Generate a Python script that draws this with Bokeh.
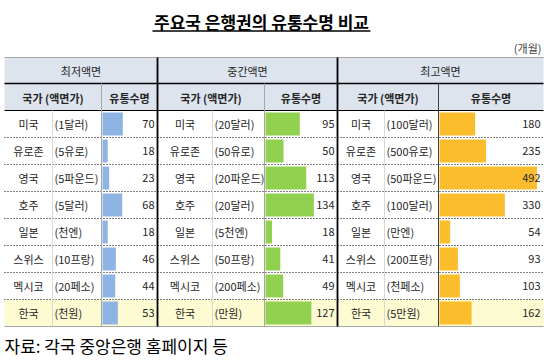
from bokeh.plotting import figure
from bokeh.models import Range1d, ColumnDataSource
from bokeh.core.properties import value
from bokeh.embed import file_html
from bokeh.resources import INLINE

# ---------------- data ----------------
title = "주요국 은행권의 유통수명 비교"
unit = "(개월)"
source_note = "자료: 각국 중앙은행 홈페이지 등"
groups = ["최저액면", "중간액면", "최고액면"]
head_country = "국가 (액면가)"
head_life = "유통수명"
countries = ["미국", "유로존", "영국", "호주", "일본", "스위스", "멕시코", "한국"]
low_denoms = ["(1달러)", "(5유로)", "(5파운드)", "(5달러)", "(천엔)", "(10프랑)", "(20페소)", "(천원)"]
low_life = [70, 18, 23, 68, 18, 46, 44, 53]
mid_denoms = ["(20달러)", "(50유로)", "(20파운드)", "(20달러)", "(5천엔)", "(50프랑)", "(200페소)", "(만원)"]
mid_life = [95, 50, 113, 134, 18, 41, 49, 127]
high_denoms = ["(100달러)", "(500유로)", "(50파운드)", "(100달러)", "(만엔)", "(200프랑)", "(천페소)", "(5만원)"]
high_life = [180, 235, 492, 330, 54, 93, 103, 162]

# ---------------- layout (reference pixel coordinates) ----------------
FONT = value("Noto Sans CJK KR")
W, H = 544, 362
XA, XB = 0, W
YT, YB = 0, H
TOP, H1, H2 = 57, 83, 110
ROW_H = 27
n = len(countries)
BOTTOM = H2 + ROW_H * n
TL, TR = 4, 543

tables = [
    dict(x0=TL, s1=52, s2=101, x1=157, scale=0.29, color="#8db4e2", denoms=low_denoms, life=low_life, name="low", sepcol="#a6a6a6"),
    dict(x0=157, s1=212, s2=264, x1=337, scale=0.361, color="#92d050", denoms=mid_denoms, life=mid_life, name="mid", sepcol="#a6a6a6"),
    dict(x0=337, s1=384, s2=438, x1=TR, scale=0.198, color="#fbbd2c", denoms=high_denoms, life=high_life, name="high", sepcol="#404040"),
]

p = figure(width=W, height=H, output_backend="svg", toolbar_location=None,
           x_range=Range1d(XA, XB), y_range=Range1d(YB, YT), min_border=0)
p.axis.visible = False
p.grid.visible = False
p.outline_line_color = None
p.background_fill_color = "white"
p.border_fill_color = "white"

row_centers = [H2 + ROW_H * i + ROW_H / 2 for i in range(n)]

# backgrounds
p.quad(left=[TL, TL], right=[TR, TR], top=[TOP, H1], bottom=[H1, H2],
       fill_color="#dde4ee", line_color=None)
p.quad(left=[TL], right=[TR], top=[row_centers[-1] - ROW_H / 2], bottom=[row_centers[-1] + ROW_H / 2],
       fill_color="#fdfbd2", line_color=None)

# bars via extra ranges (value axis per table)
for t in tables:
    L = t["s2"] + 1
    s = t["scale"]
    p.extra_x_ranges[t["name"]] = Range1d((XA - L) / s, (XB - L) / s)
    src = ColumnDataSource(dict(y=row_centers, v=t["life"]))
    p.hbar(y="y", left=0, right="v", height=23, source=src, x_range_name=t["name"],
           fill_color=t["color"], line_color=None)

# horizontal lines
p.segment(x0=[TL], x1=[TR], y0=[TOP], y1=[TOP], line_color="#a6a6a6", line_width=1)
p.segment(x0=[TL], x1=[TR], y0=[H1], y1=[H1], line_color="#000000", line_width=1.6)
p.segment(x0=[TL], x1=[TR], y0=[H2], y1=[H2], line_color="#000000", line_width=1)
sep_y = [H2 + ROW_H * i for i in range(1, n)]
p.segment(x0=[TL] * len(sep_y), x1=[TR] * len(sep_y), y0=sep_y, y1=sep_y,
          line_color="#000000", line_width=1, line_dash="1 2")
p.segment(x0=[TL], x1=[TR], y0=[BOTTOM], y1=[BOTTOM], line_color="#a6a6a6", line_width=1.2)

# vertical lines
for t in tables:
    p.segment(x0=[t["s1"]], x1=[t["s1"]], y0=[H2], y1=[BOTTOM], line_color="#d9d9d9", line_width=1)
    p.segment(x0=[t["s2"]], x1=[t["s2"]], y0=[H1], y1=[BOTTOM], line_color=t["sepcol"], line_width=1)
for xv in [157, 337]:
    p.segment(x0=[xv], x1=[xv], y0=[TOP], y1=[BOTTOM], line_color="#000000", line_width=1.8)

# texts
TC = "#262626"
p.text(x=[261], y=[21], text=[title], text_font=FONT, text_font_size="17px", text_font_style="bold",
       text_align="center", text_baseline="middle", text_color="#000000")
p.segment(x0=[152], x1=[370], y0=[30.5], y1=[30.5], line_color="#000000", line_width=1.3)
p.text(x=[541], y=[47], text=[unit], text_font=FONT, text_font_size="11px",
       text_align="right", text_baseline="middle", text_color="#404040")
p.text(x=[4], y=[345], text=[source_note], text_font=FONT, text_font_size="17px",
       text_align="left", text_baseline="middle", text_color="#000000")

for g, t in zip(groups, tables):
    p.text(x=[(t["x0"] + t["x1"]) / 2], y=[(TOP + H1) / 2 + 0.5], text=[g], text_font=FONT,
           text_font_size="11px", text_align="center", text_baseline="middle", text_color=TC)
    p.text(x=[(t["x0"] + t["s2"]) / 2], y=[(H1 + H2) / 2 + 0.5], text=[head_country], text_font=FONT,
           text_font_size="11px", text_font_style="bold", text_align="center", text_baseline="middle", text_color=TC)
    p.text(x=[(t["s2"] + t["x1"]) / 2], y=[(H1 + H2) / 2 + 0.5], text=[head_life], text_font=FONT,
           text_font_size="11px", text_font_style="bold", text_align="center", text_baseline="middle", text_color=TC)
    p.text(x=[(t["x0"] + t["s1"]) / 2] * n, y=row_centers, text=countries, text_font=FONT,
           text_font_size="11px", text_align="center", text_baseline="middle", text_color=TC)
    p.text(x=[t["s1"] + 2] * n, y=row_centers, text=t["denoms"], text_font=FONT,
           text_font_size="11px", text_align="left", text_baseline="middle", text_color=TC)
    p.text(x=[t["x1"] - 3] * n, y=row_centers, text=[str(v) for v in t["life"]], text_font=FONT,
           text_font_size="11px", text_align="right", text_baseline="middle", text_color=TC)

open("out.html", "w").write(file_html(p, INLINE))
